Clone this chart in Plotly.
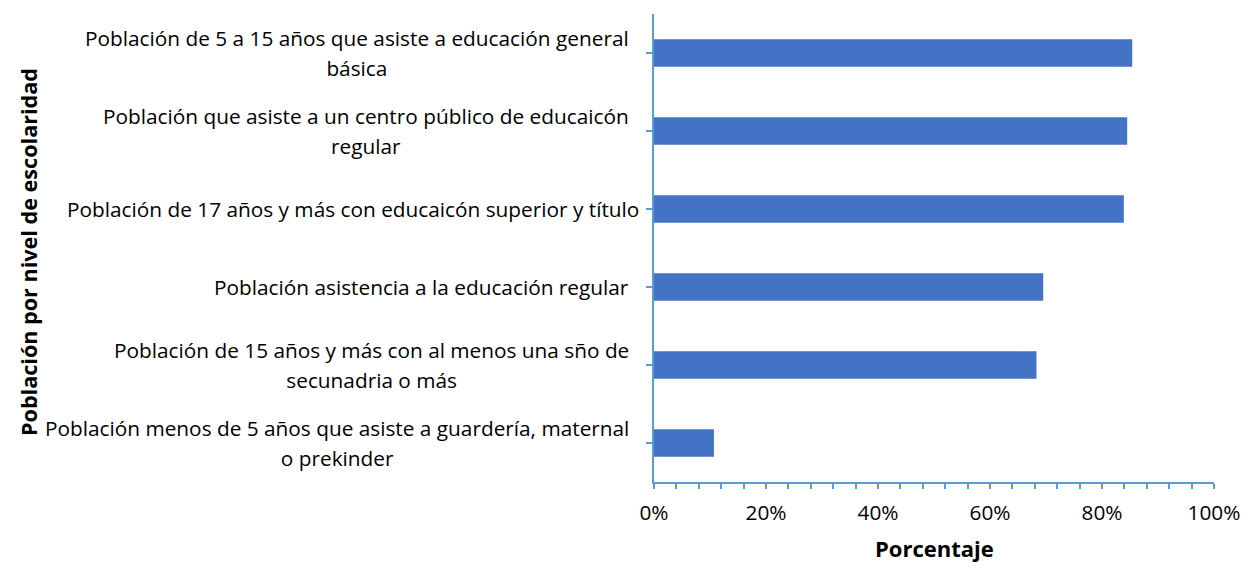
import plotly.graph_objects as go

categories = [
    "Población de 5 a 15 años que asiste a educación general\nbásica",
    "Población que asiste a un centro público de educaicón\nregular",
    "Población de 17 años y más con educaicón superior y título",
    "Población asistencia a la educación regular",
    "Población de 15 años y más con al menos una sño de\nsecunadria o más",
    "Población menos de 5 años que asiste a guardería, maternal\no prekinder",
]
values = [0.854, 0.845, 0.839, 0.695, 0.683, 0.107]
x_ticks = [0, 0.2, 0.4, 0.6, 0.8, 1.0]
x_ticklabels = ["0%", "20%", "40%", "60%", "80%", "100%"]

FONT = "Open Sans"
AXIS_COLOR = "#5B9BD5"
BAR_COLOR = "#4472C4"
LABEL_SIZE = 20.8
LINE_GAP = 30

keys = [f"c{i}" for i in range(len(categories))]

fig = go.Figure(go.Bar(
    x=values, y=keys, orientation="h",
    marker=dict(color=BAR_COLOR, line=dict(width=0)),
    hoverinfo="skip",
))

annotations = []
for key, label in zip(keys, categories):
    lines = label.split("\n")
    shift_x = -23
    if len(lines) == 1 and len(label) > 55:
        shift_x = -13
    if len(lines) == 1:
        text = lines[0]
        size = LABEL_SIZE
    else:
        text = "<br>".join(
            f"<span style='font-size:{LABEL_SIZE}px'>{ln}</span>" for ln in lines
        )
        size = LINE_GAP / 1.3
    annotations.append(dict(
        x=0, xref="paper", y=key, yref="y", text=text,
        xanchor="right", yanchor="middle", showarrow=False, align="center",
        xshift=shift_x, font=dict(family=FONT, size=size, color="#000000"),
    ))

annotations.append(dict(
    x=0, xref="paper", y=0.5, yref="paper", text="<b>Población por nivel de escolaridad</b>",
    textangle=-90, xanchor="center", yanchor="middle", showarrow=False, xshift=-626, yshift=-4,
    font=dict(family=FONT, size=21.6, color="#000000"),
))
annotations.append(dict(
    x=0.5, xref="paper", y=0, yref="paper", text="<b>Porcentaje</b>",
    xanchor="center", yanchor="middle", showarrow=False, yshift=-66,
    font=dict(family=FONT, size=22, color="#000000"),
))

fig.update_layout(
    width=1243, height=562,
    margin=dict(l=654, r=29, t=14, b=80, autoexpand=False),
    paper_bgcolor="white", plot_bgcolor="white",
    bargap=0.65, showlegend=False,
    font=dict(family=FONT, size=18, color="#000000"),
    annotations=annotations,
    xaxis=dict(
        range=[0, 1], tickvals=x_ticks, ticktext=x_ticklabels,
        showgrid=False, zeroline=False, automargin=False,
        showline=True, linecolor=AXIS_COLOR, linewidth=1.5,
        ticks="outside", ticklen=5, tickcolor=AXIS_COLOR, tickwidth=1.5,
        minor=dict(dtick=0.04, tick0=0, ticks="outside", ticklen=5,
                   tickcolor=AXIS_COLOR, tickwidth=1.5, showgrid=False),
        tickfont=dict(family=FONT, size=20.8, color="#000000"),
        ticklabelstandoff=6,
        fixedrange=True,
    ),
    yaxis=dict(
        categoryorder="array", categoryarray=keys, autorange="reversed",
        showticklabels=False, showgrid=False, zeroline=False, automargin=False,
        showline=True, linecolor=AXIS_COLOR, linewidth=1.5,
        ticks="outside", ticklen=6, tickcolor=AXIS_COLOR, tickwidth=1.5,
        fixedrange=True,
    ),
)

fig.write_html(
    "out.html",
    config={"displayModeBar": False},
    post_script="document.body.style.margin='0';document.body.style.padding='0';",
)
